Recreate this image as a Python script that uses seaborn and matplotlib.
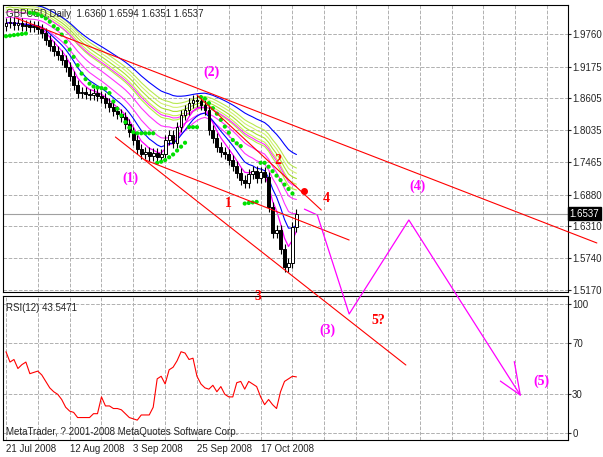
import numpy as np
import pandas as pd
import matplotlib
matplotlib.use("Agg")
import matplotlib.pyplot as plt
import seaborn as sns

# --- daily closes GBPUSD (bars 0..73) ---
closes = [1.995, 1.998, 1.992, 1.996, 1.990, 1.993, 1.988, 1.991, 1.985,
          1.978, 1.965, 1.955, 1.945, 1.938, 1.930,
          1.917, 1.900, 1.885, 1.870,
          1.872, 1.868, 1.866, 1.870, 1.864, 1.862, 1.852,
          1.845, 1.838, 1.832, 1.827, 1.815, 1.800, 1.786,
          1.770, 1.760, 1.765, 1.758, 1.762, 1.755, 1.760,
          1.786, 1.795, 1.780, 1.809, 1.830, 1.840, 1.852, 1.858,
          1.855, 1.848, 1.840, 1.804, 1.790,
          1.773, 1.765, 1.760, 1.750, 1.740, 1.727, 1.715, 1.709,
          1.725, 1.730, 1.718, 1.728, 1.720,
          1.666, 1.619, 1.625, 1.590, 1.558, 1.565, 1.630, 1.6537]
first_open = 1.990

sar = [1.972, 1.973, 1.974, 1.975, 1.976, 1.977,
       2.014, 2.013, 2.011, 2.008, 2.004, 1.998, 1.990,
       1.985, 1.975, 1.962, 1.948, 1.935, 1.920, 1.905, 1.895, 1.887, 1.882, 1.880, 1.879, 1.878,
       1.870, 1.855, 1.842, 1.830, 1.818, 1.808, 1.800, 1.798, 1.798, 1.798, 1.798, 1.798,
       1.745, 1.747, 1.750, 1.755, 1.760, 1.767, 1.774, 1.781, 1.809, 1.809, 1.809,
       1.863, 1.860, 1.852, 1.843, 1.833, 1.822, 1.810, 1.799, 1.786, 1.780, 1.775,
       1.672, 1.673, 1.674, 1.675, 1.745,
       1.745, 1.738, 1.730, 1.722, 1.714, 1.706, 1.698, 1.690, np.nan]

rsi = [63, 55, 57, 50, 53, 55, 46, 47, 48, 45, 40, 35, 32, 30, 26, 20, 17, 16,
       12, 12, 12, 12, 15, 15, 28, 21, 21, 19, 19, 18, 15, 12, 11, 10, 14, 14,
       14, 20, 42, 44, 38, 49, 51, 56, 63, 62, 57, 58, 44, 38, 35, 34, 37, 32,
       36, 30, 28, 28, 39, 40, 34, 40, 38, 36, 28, 22, 26, 22, 19, 32, 40, 42,
       44, 43.5]

date_bars = [0, 16, 32, 48, 64]
date_labels = ["21 Jul 2008", "12 Aug 2008", "3 Sep 2008", "25 Sep 2008", "17 Oct 2008"]
price_ticks = [1.9760, 1.9175, 1.8605, 1.8035, 1.7465, 1.6880, 1.6310, 1.5740, 1.5170]

# trend lines (bar, price)
red_lines = [([2.5, 148.5], [2.0047, 1.6013]),
             ([35, 86.25], [1.7501, 1.6066]),
             ([48, 79.25], [1.8666, 1.6604]),
             ([27.5, 100.5], [1.7913, 1.3825])]
wave_x = [78.25, 86.25, 101.25, 129.25]
wave_y = [1.6515, 1.474, 1.6425, 1.3287]

sns.set_style("white")
plt.rcParams["font.family"] = ["Liberation Sans", "DejaVu Sans"]
W, H = 603, 457
fig = plt.figure(figsize=(W / 100, H / 100), dpi=100)
ax2 = fig.add_axes([3 / W, 1 - 440 / H, 565 / W, 144 / H])
ax = fig.add_axes([3 / W, 1 - 292 / H, 565 / W, 287 / H])
ax.set_zorder(3)
ax.patch.set_alpha(0)

n = len(closes)
x = np.arange(n)
c = np.array(closes)
o = np.concatenate([[first_open], c[:-1]])
hi = np.maximum(o, c) + 0.009
lo = np.minimum(o, c) - 0.009

# moving averages
s = pd.Series(closes)
fan = ["#b0f040", "#c8f050", "#a8e030", "#d0f070", "#b8e850"]
for i, span in enumerate([20, 22, 24, 26, 28]):
    ax.plot(x, s.ewm(span=span).mean() + 0.02 + 0.004 * i, color=fan[i], lw=0.8)
for span, off in [(14, 0.0), (18, 0.01), (22, 0.02)]:
    ax.plot(x, s.ewm(span=span).mean() + off, color="#ff30ff", lw=0.8)
ax.plot(x, s.ewm(span=5).mean(), color="#ff00ff", lw=0.9)
ax.plot(x, s.ewm(span=40).mean() + 0.035, color="#0000ff", lw=0.8)
ax.plot(x, s.ewm(span=9).mean(), color="#0000ff", lw=0.8)

ax.vlines(x, lo, hi, color="black", lw=0.8, zorder=3)
up = c >= o
ax.bar(x[up], (c - o)[up], bottom=o[up], width=0.7, color="white", edgecolor="black", lw=0.7, zorder=4)
ax.bar(x[~up], (o - c)[~up], bottom=c[~up], width=0.7, color="black", edgecolor="black", lw=0.7, zorder=4)
sns.scatterplot(x=x, y=sar, ax=ax, color="#00e000", s=9, marker="o", edgecolor="none", zorder=5)

for lx, ly in red_lines:
    ax.plot(lx, ly, color="red", lw=0.8, clip_on=False, zorder=6)
ax.plot(wave_x, wave_y, color="#ff00ff", lw=0.9, clip_on=False, zorder=6)
ax.plot([wave_x[-1] - 1.5, wave_x[-1], wave_x[-1] - 5],
        [wave_y[-1] + 0.06, wave_y[-1], wave_y[-1] + 0.025], color="#ff00ff", lw=0.9, clip_on=False)
ax.plot([75, 78.25], [1.6620, 1.6515], color="#ff00ff", lw=0.9)
ax.plot([75], [1.6940], "o", color="red", ms=4, zorder=7)

ax.axhline(closes[-1], color="#a0a0a0", lw=0.8)
ax.set_xlim(-0.75, 141.25)
ax.set_ylim(1.5134, 2.028)
ax.yaxis.tick_right()
ax.set_yticks(price_ticks)
ax.set_yticklabels([f"{p:.4f}" for p in price_ticks], fontsize=7)
ax.set_xticks(np.arange(8, 141, 8))
ax.set_xticklabels([])
ax.grid(True, color="#b0b0b0", ls="--", lw=0.7)
ax.tick_params(length=2, pad=1)
ax.text(1.003, closes[-1], f"{closes[-1]:.4f}", transform=ax.get_yaxis_transform(),
        fontsize=7, color="white", va="center", ha="left", bbox=dict(fc="black", ec="black", pad=1))

sns.lineplot(x=x, y=rsi, ax=ax2, color="red", lw=0.8)
ax2.set_xlim(-0.75, 141.25)
ax2.set_ylim(-5.4, 106.2)
ax2.yaxis.tick_right()
ax2.set_yticks([0, 30, 70, 100])
ax2.set_yticklabels(["0", "30", "70", "100"], fontsize=7)
ax2.set_xticks(date_bars)
ax2.set_xticklabels(date_labels, fontsize=7, ha="left")
ax2.set_xticks(np.arange(8, 141, 8), minor=True)
ax2.grid(True, which="both", color="#b0b0b0", ls="--", lw=0.7)
ax2.tick_params(length=2, pad=1)
for a in (ax, ax2):
    for sp in a.spines.values():
        sp.set_color("black")
        sp.set_linewidth(0.8)

ax.text(0.005, 0.985, "GBPUSD,Daily  1.6360 1.6594 1.6351 1.6537", transform=ax.transAxes,
        fontsize=7, va="top")
ax2.text(0.005, 0.95, "RSI(12) 43.5471", transform=ax2.transAxes, fontsize=7, va="top")
ax2.text(0.005, 0.02, "MetaTrader, ? 2001-2008 MetaQuotes Software Corp.", transform=ax2.transAxes,
         fontsize=7, va="bottom")

labels = [("(1)", 130, 178, "#ff00ff"), ("(2)", 212, 72, "#ff00ff"), ("(3)", 327, 330, "#ff00ff"),
          ("(4)", 418, 186, "#ff00ff"), ("(5)", 541, 381, "#ff00ff"),
          ("1", 228, 204, "red"), ("2", 278, 160, "red"), ("3", 258, 296, "red"),
          ("4", 326, 198, "red"), ("5?", 378, 320, "red")]
for t, px, py, col in labels:
    fig.text(px / W, 1 - py / H, t, color=col, fontsize=10, fontweight="bold",
             family="Liberation Serif", ha="center", va="center", zorder=10)

fig.savefig("out.png", dpi=100)
